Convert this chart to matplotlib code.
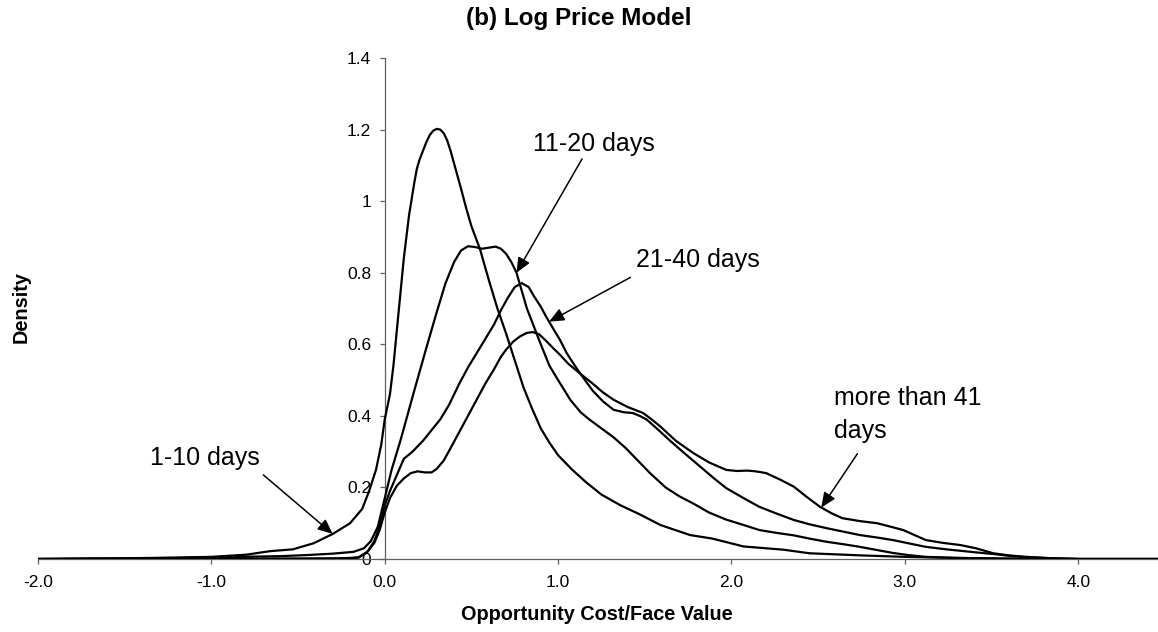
import numpy as np
import matplotlib
matplotlib.use("Agg")
import matplotlib.pyplot as plt

# Kernel density estimates of opportunity cost / face value, by holding period
x_1_10 = [-2.0, -1.5, -1.2, -1.0, -0.8, -0.66, -0.53, -0.41, -0.3, -0.2, -0.13, -0.09,
          -0.05, -0.02, 0.0, 0.03, 0.05, 0.08, 0.11, 0.14, 0.17, 0.185, 0.20, 0.22, 0.24,
          0.26, 0.28, 0.30, 0.32, 0.34, 0.36, 0.38, 0.40, 0.42, 0.44, 0.47, 0.50, 0.55,
          0.60, 0.65, 0.70, 0.75, 0.80, 0.85, 0.90, 0.95, 1.0, 1.08, 1.16, 1.25, 1.36,
          1.47, 1.59, 1.76, 1.89, 2.07, 2.3, 2.45, 2.75, 3.0, 3.3, 3.6, 4.0, 4.46]
d_1_10 = [0.0, 0.002, 0.004, 0.006, 0.012, 0.022, 0.027, 0.044, 0.07, 0.10, 0.14, 0.19,
          0.25, 0.32, 0.39, 0.46, 0.54, 0.69, 0.84, 0.96, 1.05, 1.09, 1.115, 1.14, 1.165,
          1.185, 1.197, 1.202, 1.20, 1.19, 1.17, 1.14, 1.105, 1.07, 1.035, 0.98, 0.93, 0.865,
          0.78, 0.70, 0.63, 0.555, 0.48, 0.42, 0.365, 0.325, 0.29, 0.25, 0.215, 0.18, 0.15,
          0.125, 0.095, 0.067, 0.057, 0.035, 0.026, 0.016, 0.010, 0.006, 0.003, 0.001, 0.0, 0.0]

x_11_20 = [-2.0, -1.2, -0.84, -0.6, -0.45, -0.3, -0.18, -0.12, -0.08, -0.04, 0.0, 0.04,
           0.09, 0.13, 0.17, 0.24, 0.30, 0.35, 0.40, 0.44, 0.48, 0.52, 0.56, 0.60, 0.64,
           0.67, 0.70, 0.73, 0.76, 0.79, 0.82, 0.86, 0.90, 0.95, 1.0, 1.07, 1.13, 1.18,
           1.25, 1.32, 1.39, 1.45, 1.53, 1.62, 1.70, 1.78, 1.87, 1.97, 2.07, 2.16, 2.26,
           2.36, 2.45, 2.55, 2.65, 2.74, 2.84, 2.93, 3.02, 3.12, 3.3, 3.6, 4.0, 4.46]
d_11_20 = [0.0, 0.003, 0.006, 0.008, 0.011, 0.015, 0.02, 0.03, 0.05, 0.09, 0.17, 0.25,
           0.33, 0.40, 0.47, 0.59, 0.69, 0.77, 0.83, 0.862, 0.874, 0.872, 0.867, 0.870, 0.873,
           0.867, 0.853, 0.83, 0.80, 0.75, 0.70, 0.65, 0.60, 0.54, 0.50, 0.445, 0.41, 0.39,
           0.365, 0.34, 0.31, 0.28, 0.24, 0.20, 0.175, 0.155, 0.13, 0.11, 0.095, 0.081, 0.073,
           0.066, 0.057, 0.048, 0.041, 0.034, 0.025, 0.017, 0.011, 0.006, 0.003, 0.001, 0.0, 0.0]

x_21_40 = [-2.0, -0.5, -0.2, -0.15, -0.1, -0.06, -0.03, 0.0, 0.03, 0.07, 0.11, 0.16,
           0.22, 0.27, 0.32, 0.37, 0.43, 0.48, 0.53, 0.58, 0.63, 0.67, 0.71, 0.75, 0.79,
           0.83, 0.86, 0.90, 0.93, 0.97, 1.01, 1.05, 1.09, 1.125, 1.2, 1.26, 1.32, 1.38,
           1.43, 1.47, 1.51, 1.58, 1.64, 1.73, 1.82, 1.9, 1.97, 2.07, 2.16, 2.26, 2.36,
           2.45, 2.55, 2.65, 2.74, 2.84, 2.93, 3.03, 3.12, 3.22, 3.32, 3.42, 3.51, 3.6,
           3.7, 3.85, 4.0, 4.46]
d_21_40 = [0.0, 0.001, 0.002, 0.005, 0.02, 0.05, 0.09, 0.15, 0.19, 0.235, 0.28, 0.30,
           0.33, 0.36, 0.39, 0.43, 0.49, 0.535, 0.575, 0.615, 0.655, 0.695, 0.73, 0.76, 0.771,
           0.76, 0.735, 0.705, 0.678, 0.645, 0.613, 0.575, 0.545, 0.52, 0.47, 0.44, 0.417, 0.41,
           0.408, 0.40, 0.39, 0.36, 0.333, 0.295, 0.258, 0.225, 0.198, 0.17, 0.146, 0.127, 0.109,
           0.097, 0.086, 0.076, 0.067, 0.060, 0.053, 0.043, 0.034, 0.028, 0.023, 0.018, 0.014, 0.009,
           0.005, 0.002, 0.0, 0.0]

x_41_plus = [-2.0, -0.3, -0.15, -0.1, -0.06, -0.03, 0.0, 0.03, 0.07, 0.11, 0.15, 0.19,
             0.23, 0.27, 0.30, 0.34, 0.38, 0.43, 0.48, 0.53, 0.58, 0.63, 0.67, 0.70, 0.74,
             0.78, 0.82, 0.855, 0.89, 0.93, 0.97, 1.01, 1.06, 1.125, 1.2, 1.26, 1.32, 1.40,
             1.49, 1.54, 1.59, 1.68, 1.78, 1.87, 1.97, 2.03, 2.09, 2.14, 2.20, 2.28, 2.36,
             2.43, 2.51, 2.58, 2.64, 2.74, 2.84, 2.92, 2.99, 3.06, 3.12, 3.22, 3.32, 3.41,
             3.51, 3.6, 3.7, 3.85, 4.0, 4.46]
d_41_plus = [0.0, 0.001, 0.004, 0.02, 0.045, 0.08, 0.13, 0.17, 0.205, 0.225, 0.24, 0.245,
             0.242, 0.242, 0.252, 0.275, 0.31, 0.355, 0.40, 0.445, 0.49, 0.53, 0.565, 0.585, 0.607,
             0.622, 0.632, 0.634, 0.628, 0.61, 0.59, 0.571, 0.545, 0.519, 0.49, 0.465, 0.445, 0.425,
             0.408, 0.39, 0.37, 0.33, 0.296, 0.27, 0.249, 0.246, 0.247, 0.245, 0.24, 0.222, 0.202,
             0.175, 0.146, 0.127, 0.114, 0.106, 0.10, 0.09, 0.081, 0.066, 0.053, 0.045, 0.039, 0.030,
             0.016, 0.010, 0.006, 0.002, 0.0, 0.0]

series_labels = ["1-10 days", "11-20 days", "21-40 days", "more than 41\ndays"]
x_ticks = [-2.0, -1.0, 0.0, 1.0, 2.0, 3.0, 4.0]
x_tick_labels = ["-2.0", "-1.0", "0.0", "1.0", "2.0", "3.0", "4.0"]
y_ticks = [0, 0.2, 0.4, 0.6, 0.8, 1.0, 1.2, 1.4]
y_tick_labels = ["0", "0.2", "0.4", "0.6", "0.8", "1", "1.2", "1.4"]

plt.rcParams["font.family"] = ["Liberation Sans", "DejaVu Sans"]

fig = plt.figure(figsize=(11.58, 6.32), dpi=100)
ax = fig.add_axes([0.0328, 0.1155, 0.9672, 0.7927])

curves = [(x_1_10, d_1_10), (x_11_20, d_11_20), (x_21_40, d_21_40), (x_41_plus, d_41_plus)]
for xs, ys in curves:
    ax.plot(xs, ys, color="black", lw=1.6, solid_joinstyle="round", zorder=3)

ax.set_xlim(-2.0, 4.46)
ax.set_ylim(0, 1.4)

for side in ("top", "right"):
    ax.spines[side].set_visible(False)
ax.spines["left"].set_position(("data", 0))
for side in ("left", "bottom"):
    ax.spines[side].set_color("#606060")
    ax.spines[side].set_linewidth(0.9)

ax.set_xticks(x_ticks)
ax.set_xticklabels(x_tick_labels)
ax.set_yticks(y_ticks)
ax.set_yticklabels(y_tick_labels)
ax.tick_params(axis="x", direction="out", length=3.6, width=0.9, color="#606060",
               pad=7.9, labelsize=12.5)
ax.tick_params(axis="y", direction="out", length=3.6, width=0.9, color="#606060",
               pad=6.1, labelsize=12.5)

arrow_kw = dict(arrowstyle="-|>,head_length=0.5,head_width=0.22", color="black",
                lw=1.1, shrinkA=0, shrinkB=0, mutation_scale=18)

# (label anchor = baseline of last line, arrow start, x where the arrow meets its curve)
label_specs = [
    ((-1.355, 0.263), (-0.70, 0.235), -0.30),
    ((0.854, 1.141), (1.138, 1.118), 0.76),
    ((1.452, 0.815), (1.417, 0.787), 0.948),
    ((2.589, 0.338), (2.726, 0.294), 2.518),
]
for (xs, ys), label, (txt_xy, start_xy, tip_x) in zip(curves, series_labels, label_specs):
    tip_y = float(np.interp(tip_x, xs, ys))
    ax.text(txt_xy[0], txt_xy[1], label, fontsize=18, ha="left", va="baseline",
            linespacing=1.46, zorder=4)
    ax.annotate("", xy=(tip_x, tip_y), xytext=start_xy, arrowprops=arrow_kw, zorder=4)

fig.text(0.5, 1 - 25 / 632, "(b) Log Price Model", ha="center", va="baseline",
         fontsize=17.5, fontweight="bold")
fig.text(597 / 1158, 1 - 620 / 632, "Opportunity Cost/Face Value", ha="center",
         va="baseline", fontsize=14.3, fontweight="bold")
fig.text(21 / 1158, 1 - 307.5 / 632, "Density", ha="center", va="center",
         rotation=90, fontsize=14.3, fontweight="bold")

fig.savefig("out.png", dpi=100)
